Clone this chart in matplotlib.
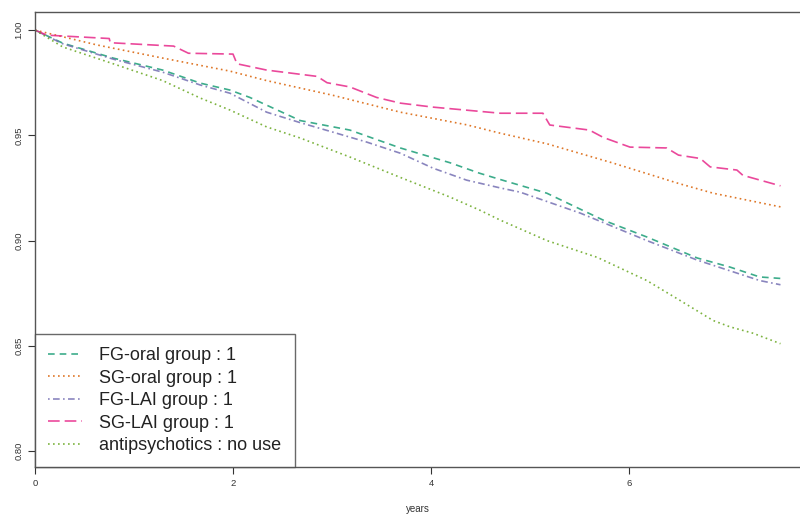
import matplotlib
matplotlib.use("Agg")
import matplotlib.pyplot as plt

# Kaplan-Meier style survival curves (years, survival)
fg_oral_t = [0, 0.28, 0.79, 1.29, 1.67, 1.97, 2.17, 2.68, 3.18, 3.69, 4.19, 4.49, 4.7,
             5.17, 5.74, 6.18, 6.69, 7.02, 7.32, 7.53]
fg_oral_s = [1.0, 0.9938, 0.9867, 0.981, 0.9748, 0.9715, 0.968, 0.957, 0.9525, 0.944, 0.937,
             0.932, 0.929, 0.9225, 0.9097, 0.9017, 0.8917, 0.8874, 0.8827, 0.882]

sg_oral_t = [0, 0.63, 1.29, 1.97, 2.34, 3.01, 3.69, 4.36, 4.7, 5.17, 5.84, 6.51, 6.85, 7.53]
sg_oral_s = [1.0, 0.9929, 0.9867, 0.9805, 0.976, 0.969, 0.961, 0.955, 0.951, 0.946, 0.9368,
             0.927, 0.9225, 0.916]

fg_lai_t = [0, 0.28, 0.79, 1.29, 1.67, 1.97, 2.34, 2.68, 3.01, 3.35, 3.69, 4.02, 4.36, 4.7,
            4.9, 5.51, 6.18, 6.69, 7.32, 7.53]
fg_lai_s = [1.0, 0.9935, 0.9862, 0.98, 0.9739, 0.97, 0.961, 0.956, 0.9515, 0.9468, 0.9415,
            0.9344, 0.9287, 0.925, 0.923, 0.913, 0.9, 0.8907, 0.881, 0.879]

sg_lai_t = [0, 0.12, 0.75, 0.76, 1.4, 1.55, 2.0, 2.04, 2.34, 2.85, 2.95, 3.18, 3.45, 3.69,
            4.02, 4.7, 5.13, 5.2, 5.6, 5.74, 6.01, 6.38, 6.5, 6.72, 6.82, 7.09, 7.15, 7.53]
sg_lai_s = [1.0, 0.9976, 0.996, 0.994, 0.9924, 0.989, 0.9886, 0.984, 0.981, 0.978, 0.975,
            0.973, 0.968, 0.9653, 0.9634, 0.9605, 0.9605, 0.9549, 0.9525, 0.949, 0.9444,
            0.944, 0.9406, 0.939, 0.935, 0.9335, 0.931, 0.926]

no_use_t = [0, 0.28, 0.79, 1.29, 1.67, 1.97, 2.34, 2.68, 3.18, 3.69, 4.19, 4.49, 4.7, 5.17,
            5.68, 6.18, 6.51, 6.85, 7.02, 7.25, 7.53]
no_use_s = [1.0, 0.992, 0.984, 0.976, 0.9677, 0.962, 0.954, 0.9487, 0.9397, 0.93, 0.9207,
            0.9145, 0.9097, 0.9, 0.892, 0.881, 0.8717, 0.862, 0.859, 0.856, 0.851]

labels = ["FG-oral group : 1", "SG-oral group : 1", "FG-LAI group : 1",
          "SG-LAI group : 1", "antipsychotics : no use"]
colors = ["#1B9E77", "#D95F02", "#7570B3", "#E7298A", "#66A61E"]
dashes = [(4, 3), (1, 2), (1, 2, 4, 2), (7, 3), (1, 2)]

series = [(fg_oral_t, fg_oral_s), (sg_oral_t, sg_oral_s), (fg_lai_t, fg_lai_s),
          (sg_lai_t, sg_lai_s), (no_use_t, no_use_s)]

plt.rcParams["font.family"] = ["Liberation Sans", "DejaVu Sans"]

fig = plt.figure(figsize=(8, 5.15), dpi=100)
ax = fig.add_axes([35 / 800, 1 - 467 / 515, 765 / 800, 455 / 515])

for (t, s), label, color, dash in zip(series, labels, colors, dashes):
    ax.plot(t, s, color=color, lw=1.2, dashes=dash, label=label, alpha=0.85)

ax.set_xlim(0, 765 / 99)
ax.set_ylim(0.7924, 1.0086)
ax.set_xticks([0, 2, 4, 6])
ax.set_yticks([0.80, 0.85, 0.90, 0.95, 1.00])
ax.set_yticklabels(["0.80", "0.85", "0.90", "0.95", "1.00"], rotation=90, va="center")
ax.tick_params(labelsize=6.8, colors="#333333", length=5, width=0.8)
ax.set_xlabel("years", fontsize=7, color="#333333", labelpad=12)

for side in ["top", "left", "bottom"]:
    ax.spines[side].set_color("#555555")
    ax.spines[side].set_linewidth(1.0)
ax.spines["right"].set_visible(False)

leg = ax.legend(loc="lower left", fontsize=13.0, frameon=True, fancybox=False,
                borderaxespad=0, handlelength=1.9, handletextpad=0.95,
                labelspacing=0.3, borderpad=0.72)
leg.get_frame().set_edgecolor("#444444")
leg.get_frame().set_linewidth(1.0)
for text in leg.get_texts():
    text.set_color("#222222")

fig.savefig("out.png", dpi=100)
